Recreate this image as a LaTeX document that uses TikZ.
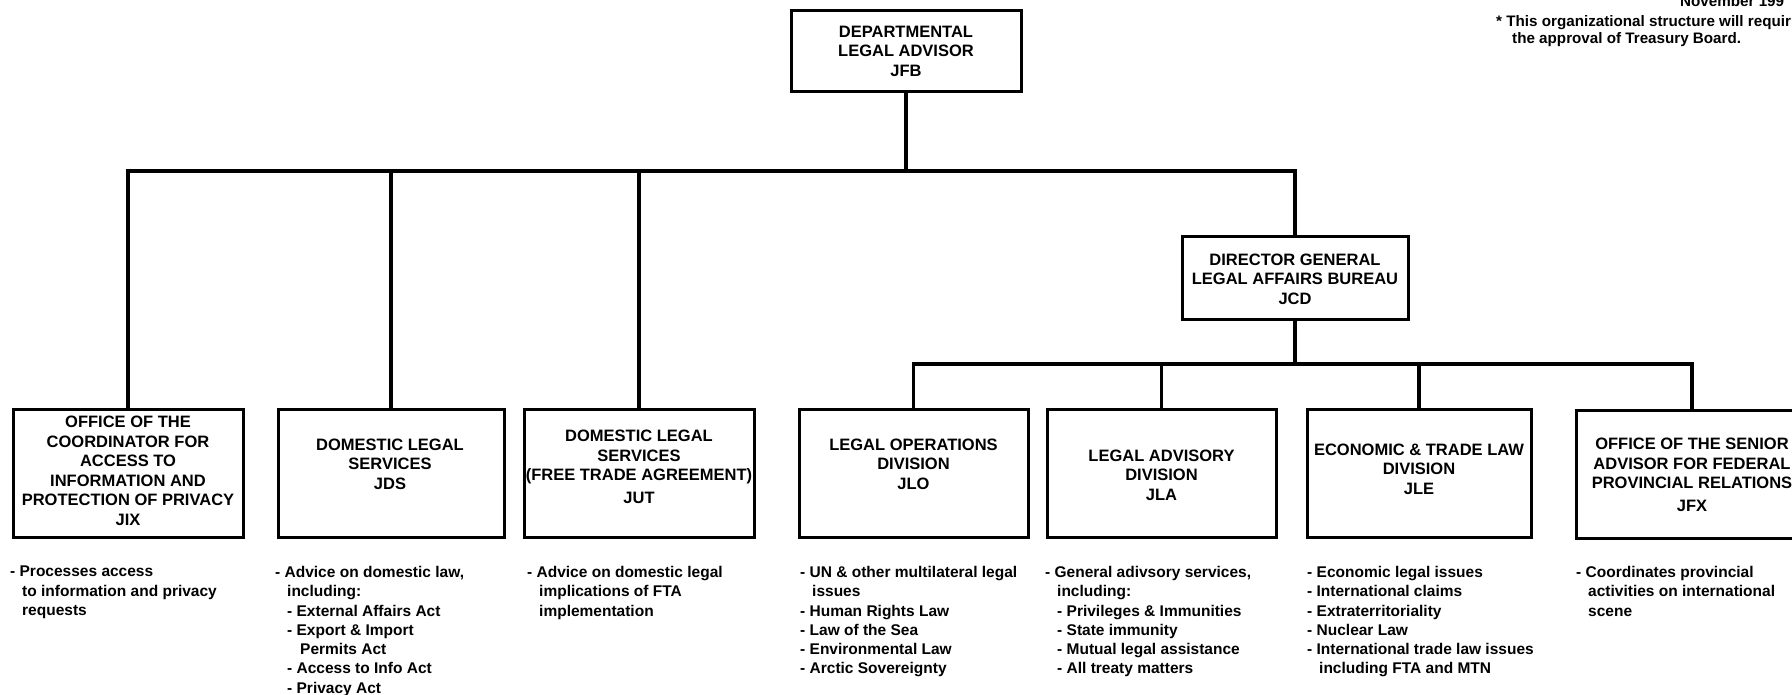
\documentclass[tikz,border=0pt]{standalone}
\usepackage{fontspec}
\setmainfont{Liberation Sans}
\newcommand\indA{\hspace*{12pt}}
\newcommand\indB{\hspace*{25pt}}
\begin{document}
\begin{tikzpicture}[x=1pt,y=-1pt,
  box/.style={draw, line width=3pt, inner sep=0pt},
  conn/.style={line width=3.2pt},
  btxt/.style={font=\bfseries\fontsize{16.5}{19.5}\selectfont, align=center, inner sep=0pt},
  dtxt/.style={font=\bfseries\fontsize{15.5}{19.3}\selectfont, align=left, inner sep=0pt, anchor=north west},
  note/.style={font=\bfseries\fontsize{15.2}{16}\selectfont, inner sep=0pt, anchor=base west}]
\useasboundingbox (0,0) rectangle (1792,695);

% boxes
\node[box, minimum width=230pt, minimum height=81pt] (jfb) at (906,51.5) {};
\node[box, minimum width=226pt, minimum height=82pt] (jcd) at (1295,278) {};
\node[box, minimum width=230pt, minimum height=128pt] (jix) at (128,473) {};
\node[box, minimum width=226pt, minimum height=128pt] (jds) at (391,473) {};
\node[box, minimum width=230pt, minimum height=128pt] (jut) at (639,473) {};
\node[box, minimum width=229pt, minimum height=128pt] (jlo) at (913.5,473.5) {};
\node[box, minimum width=229pt, minimum height=128pt] (jla) at (1161.5,473.5) {};
\node[box, minimum width=224pt, minimum height=128pt] (jle) at (1419,473.5) {};
\node[box, minimum width=232pt, minimum height=128pt] (jfx) at (1692,474) {};

% box texts
\node[btxt] (jfbt) at (906,51) {DEPARTMENTAL\\LEGAL ADVISOR\\JFB};
\node[btxt] (jcdt) at (1295,279) {DIRECTOR GENERAL\\LEGAL AFFAIRS BUREAU\\JCD};
\node[btxt] (jixt) at (128,471) {OFFICE OF THE\\COORDINATOR FOR\\ACCESS TO\\INFORMATION AND\\PROTECTION OF PRIVACY\\JIX};
\node[btxt] (jdst) at (390,464) {DOMESTIC LEGAL\\SERVICES\\JDS};
\node[btxt] (jutt) at (639,467) {DOMESTIC LEGAL\\SERVICES\\(FREE TRADE AGREEMENT)\\[3pt]JUT};
\node[btxt] (jlot) at (913.5,464) {LEGAL OPERATIONS\\DIVISION\\JLO};
\node[btxt] (jlat) at (1161.5,475) {LEGAL ADVISORY\\DIVISION\\JLA};
\node[btxt] (jlet) at (1419,469) {ECONOMIC \& TRADE LAW\\DIVISION\\JLE};
\node[btxt] (jfxt) at (1692,475) {OFFICE OF THE SENIOR\\ADVISOR FOR FEDERAL\\PROVINCIAL RELATIONS\\[3pt]JFX};

% connectors
\draw[conn] (jfb.south) -- (jfb.south |- 0,171);
\draw[conn] (jix.north) -- (jix.north |- 0,171) -| (jcd.north);
\draw[conn] (jds.north) -- (jds.north |- 0,171);
\draw[conn] (jut.north) -- (jut.north |- 0,171);
\draw[conn] (jcd.south) -- (jcd.south |- 0,364);
\draw[conn] (jlo.north) -- (jlo.north |- 0,364) -| (jfx.north);
\draw[conn] (jla.north) -- (jla.north |- 0,364);
\draw[conn] (jle.north) -- (jle.north |- 0,364);

% descriptions
\node[dtxt] (jixd) at (10,566) {- Processes access\\\indA to information and privacy\\\indA requests};
\node[dtxt] (jdsd) at (275,566) {- Advice on domestic law,\\\indA including:\\\indA - External Affairs Act\\\indA - Export \& Import\\\indB Permits Act\\\indA - Access to Info Act\\\indA - Privacy Act};
\node[dtxt] (jutd) at (527,566) {- Advice on domestic legal\\\indA implications of FTA\\\indA implementation};
\node[dtxt] (jlod) at (800,566) {- UN \& other multilateral legal\\\indA issues\\- Human Rights Law\\- Law of the Sea\\- Environmental Law\\- Arctic Sovereignty};
\node[dtxt] (jlad) at (1045,566) {- General adivsory services,\\\indA including:\\\indA - Privileges \& Immunities\\\indA - State immunity\\\indA - Mutual legal assistance\\\indA - All treaty matters};
\node[dtxt] (jled) at (1307,566) {- Economic legal issues\\- International claims\\- Extraterritoriality\\- Nuclear Law\\- International trade law issues\\\indA including FTA and MTN};
\node[dtxt] (jfxd) at (1576,566) {- Coordinates provincial\\\indA activities on international\\\indA scene};

% note
\node[note] (nov) at (1680,7) {November 199};
\node[note] (n1) at (1496,27) {* This organizational structure will requir};
\node[note] (n2) at (1512,44) {the approval of Treasury Board.};
\end{tikzpicture}
\end{document}
